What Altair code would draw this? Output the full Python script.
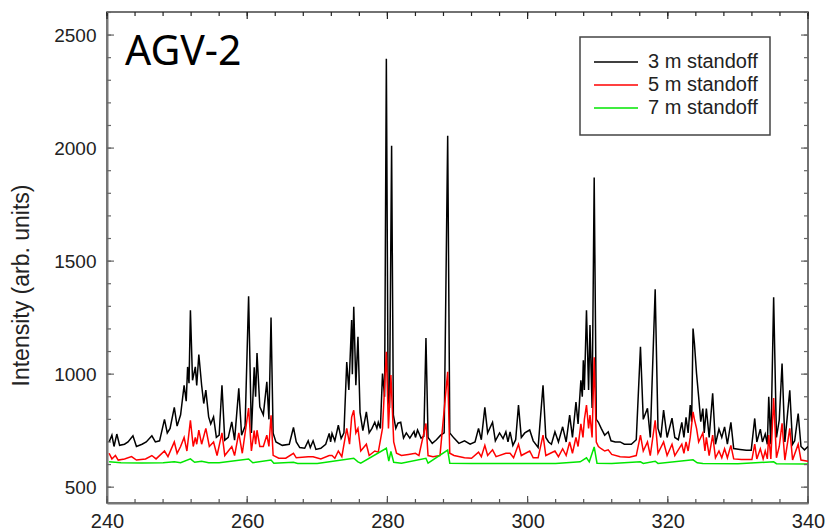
import altair as alt
import pandas as pd

# ---- spectra (wavelength in nm, intensity in arb. units) ----
x_3m = [240.3, 240.7, 241.0, 241.4, 241.8, 242.5, 243.0, 243.7, 244.2, 245.0, 245.6, 246.4, 246.9, 247.5,
        248.2, 248.6, 249.0, 249.6, 250.0, 250.5, 251.0, 251.3, 251.5, 251.7, 251.9, 252.2, 252.6, 252.8,
        253.1, 253.5, 253.8, 254.1, 254.5, 254.8, 255.2, 255.6, 256.0, 256.4, 256.8, 257.3, 257.8, 258.2,
        258.8, 259.2, 259.7, 260.2, 260.6, 261.0, 261.2, 261.4, 261.8, 262.3, 262.8, 263.1, 263.4, 263.7,
        264.1, 265.0, 266.0, 266.6, 267.0, 267.5, 268.2, 268.7, 269.0, 269.4, 269.8, 270.5, 271.2, 271.7,
        271.9, 272.1, 272.5, 273.0, 273.4, 273.8, 274.2, 274.5, 274.9, 275.0, 275.2, 275.5, 275.8, 276.1,
        276.5, 277.0, 277.4, 277.8, 278.2, 278.5, 278.7, 279.0, 279.3, 279.6, 279.85, 280.1, 280.3, 280.6,
        280.85, 281.2, 281.5, 281.9, 282.3, 282.7, 283.2, 283.8, 284.0, 284.3, 284.8, 285.2, 285.5, 285.8,
        286.4, 287.0, 287.6, 288.1, 288.6, 288.9, 289.5, 290.2, 291.0, 291.8, 292.5, 293.0, 293.4, 293.9,
        294.3, 295.0, 295.4, 296.0, 296.5, 296.9, 297.2, 297.5, 297.9, 298.3, 298.7, 299.1, 299.6, 300.3,
        300.8, 301.5, 302.2, 302.6, 303.0, 303.4, 303.9, 304.4, 305.0, 305.5, 306.0, 306.4, 306.9, 307.2,
        307.6, 307.8, 307.95, 308.1, 308.4, 308.7, 308.9, 309.2, 309.5, 309.8, 310.1, 310.5, 311.0, 311.5,
        311.9, 312.5, 313.2, 313.8, 314.8, 315.5, 316.1, 316.5, 317.1, 317.5, 318.2, 318.6, 319.0, 319.4,
        319.9, 320.6, 321.0, 321.5, 322.0, 322.3, 322.6, 322.9, 323.2, 323.4, 323.6, 323.8, 324.1, 324.4,
        324.7, 325.0, 325.2, 325.5, 325.9, 326.4, 326.8, 327.3, 327.7, 328.1, 328.5, 329.0, 329.4, 330.3,
        331.2, 331.9, 332.4, 332.7, 333.2, 333.5, 333.9, 334.2, 334.4, 334.7, 335.1, 335.5, 335.9, 336.3,
        336.7, 337.4, 337.8, 338.1, 338.6, 339.0, 339.5, 340.0]
y_3m = [700, 730, 680, 735, 685, 690, 700, 727, 680, 690, 700, 727, 700, 705,
        800, 740, 760, 853, 770, 820, 951, 880, 1032, 960, 1283, 973, 1032, 950,
        1087, 951, 870, 929, 811, 780, 811, 720, 730, 951, 708, 720, 789, 708,
        937, 730, 770, 1345, 740, 1030, 900, 1093, 855, 820, 966, 800, 1250, 739,
        700, 685, 690, 764, 700, 675, 672, 705, 675, 705, 667, 672, 690, 738,
        700, 738, 705, 774, 715, 740, 1054, 930, 1239, 1000, 1298, 951, 1165, 830,
        750, 833, 740, 760, 787, 760, 787, 760, 1003, 900, 2395, 900, 850, 2010,
        820, 760, 783, 787, 717, 740, 717, 747, 720, 753, 717, 725, 1160, 720,
        694, 710, 730, 740, 2055, 740, 717, 694, 705, 690, 700, 760, 710, 853,
        740, 787, 705, 740, 715, 745, 700, 745, 685, 710, 863, 720, 740, 753,
        705, 676, 951, 720, 700, 690, 745, 700, 767, 700, 819, 720, 877, 780,
        973, 900, 1061, 930, 1283, 930, 1217, 850, 1870, 800, 787, 760, 730, 745,
        705, 700, 700, 690, 690, 710, 1121, 800, 849, 720, 1375, 760, 720, 841,
        720, 805, 720, 710, 787, 720, 809, 740, 863, 790, 1202, 1135, 1003, 900,
        790, 848, 740, 848, 720, 915, 690, 757, 720, 767, 690, 787, 671, 667,
        663, 663, 804, 700, 757, 700, 735, 690, 900, 690, 1340, 720, 797, 1047,
        700, 929, 690, 705, 826, 680, 665, 680]

x_5m = [240.3, 240.7, 241.2, 241.6, 242.5, 243.5, 244.2, 245.5, 246.4, 247.0, 248.2, 248.7, 249.6, 250.0,
        250.5, 251.0, 251.4, 251.9, 252.3, 252.6, 252.8, 253.1, 253.5, 254.1, 254.6, 255.2, 255.7, 256.4,
        256.8, 257.8, 258.2, 258.8, 259.3, 260.2, 260.6, 261.0, 261.2, 261.4, 261.8, 262.3, 262.8, 263.1,
        263.4, 263.7, 264.5, 265.5, 266.6, 267.0, 268.7, 269.4, 270.5, 271.7, 272.1, 272.5, 273.0, 273.5,
        274.2, 274.6, 274.9, 275.2, 275.5, 275.8, 276.2, 277.0, 277.4, 278.2, 278.7, 279.3, 279.85, 280.15,
        280.5, 280.9, 281.3, 282.0, 283.0, 284.0, 284.5, 285.5, 285.8, 286.5, 287.5, 288.6, 288.9, 289.5,
        291.0, 292.0, 293.0, 293.4, 293.9, 294.3, 295.0, 295.5, 296.9, 297.5, 298.0, 298.7, 299.1, 300.3,
        300.8, 301.5, 302.2, 302.6, 303.9, 304.4, 305.0, 305.5, 306.0, 306.4, 306.9, 307.2, 307.6, 307.9,
        308.1, 308.4, 308.7, 308.9, 309.2, 309.5, 309.8, 310.1, 310.5, 311.0, 311.5, 312.0, 313.2, 314.5,
        315.5, 316.1, 316.5, 317.1, 317.5, 318.2, 318.6, 319.4, 319.9, 320.6, 321.0, 322.0, 322.3, 322.6,
        322.9, 323.2, 323.6, 323.8, 324.1, 324.4, 325.0, 325.3, 325.5, 325.9, 326.4, 326.8, 327.3, 327.7,
        328.1, 328.5, 329.0, 329.4, 330.5, 332.0, 332.4, 332.7, 333.2, 333.6, 333.9, 334.2, 334.4, 334.7,
        335.1, 335.5, 335.9, 336.3, 336.7, 337.4, 337.8, 338.6, 339.0, 340.0]
y_5m = [650, 625, 640, 620, 625, 635, 620, 625, 640, 625, 660, 635, 700, 650,
        680, 720, 660, 796, 680, 720, 690, 752, 690, 760, 680, 700, 640, 740,
        640, 680, 640, 740, 650, 850, 660, 750, 690, 752, 680, 680, 730, 680,
        818, 641, 628, 628, 650, 630, 635, 635, 625, 640, 640, 628, 660, 635,
        760, 690, 810, 840, 740, 760, 660, 690, 640, 660, 655, 760, 1099, 760,
        996, 700, 650, 640, 645, 650, 640, 782, 640, 635, 640, 1010, 650, 640,
        630, 628, 655, 635, 685, 640, 665, 635, 650, 650, 630, 690, 640, 660,
        630, 630, 730, 640, 660, 635, 670, 640, 700, 650, 720, 680, 780, 720,
        800, 863, 760, 819, 720, 1075, 700, 680, 670, 660, 665, 645, 635, 632,
        640, 730, 660, 700, 640, 796, 650, 700, 640, 690, 640, 690, 650, 700,
        660, 720, 833, 800, 760, 700, 740, 660, 720, 640, 730, 630, 660, 630,
        670, 630, 685, 625, 622, 622, 690, 625, 670, 625, 660, 625, 731, 625,
        894, 630, 680, 782, 620, 760, 620, 690, 620, 615]

x_7m = [240.3, 242.0, 245.0, 248.0, 249.6, 250.5, 251.9, 252.5, 253.5, 254.5, 256.0, 260.2, 260.8, 263.4,
        263.8, 266.6, 267.2, 270.0, 275.2, 275.8, 276.2, 279.85, 280.2, 280.5, 280.9, 282.0, 285.5, 285.8,
        288.6, 288.9, 292.0, 300.0, 304.0, 307.5, 308.4, 308.8, 309.5, 309.9, 312.0, 316.1, 316.5, 318.2,
        318.6, 323.6, 324.2, 325.0, 330.0, 335.1, 335.5, 340.0]
y_7m = [612, 608, 607, 608, 612, 608, 625, 610, 615, 608, 608, 625, 608, 620,
        606, 610, 605, 605, 628, 612, 606, 672, 615, 658, 610, 606, 628, 606,
        664, 606, 605, 605, 605, 612, 630, 612, 678, 606, 605, 612, 605, 615,
        605, 621, 608, 605, 604, 612, 604, 603]

series_names = ["3 m standoff", "5 m standoff", "7 m standoff"]
series_colors = ["#000000", "#ff0000", "#00e600"]

# ---- axis ticks ----
x_major = [240, 260, 280, 300, 320, 340]
x_minor = [v for v in range(240, 341, 4)]
y_major = [500, 1000, 1500, 2000, 2500]
y_minor = [v for v in range(500, 2601, 100)]

W, H = 701, 491
X_DOM = [240, 340]
Y_DOM = [430, 2602]
FONT = "Liberation Sans"

frames = []
for name, xs_, ys_ in zip(series_names, [x_3m, x_5m, x_7m], [y_3m, y_5m, y_7m]):
    frames.append(pd.DataFrame({"wl": xs_, "intensity": ys_, "series": name}))
spectra = pd.concat(frames, ignore_index=True)

xs = alt.Scale(domain=X_DOM, nice=False, zero=False)
ys = alt.Scale(domain=Y_DOM, nice=False, zero=False)

lines = alt.Chart(spectra).mark_line(strokeWidth=1.5, clip=True).encode(
    x=alt.X("wl:Q", scale=xs,
            axis=alt.Axis(title=None, values=x_major, ticks=False, labelFontSize=20,
                          labelFont=FONT, labelColor="#222", labelPadding=8,
                          labelFlush=False, format="d",
                          domainColor="#777", domainWidth=2, grid=False)),
    y=alt.Y("intensity:Q", scale=ys,
            axis=alt.Axis(title="Intensity (arb. units)", values=y_major, ticks=False,
                          format="d", labelFontSize=19, labelFont=FONT, labelColor="#222",
                          labelPadding=11, titleFont=FONT, titleFontSize=23,
                          titleFontWeight="normal", titleColor="#222", titlePadding=20,
                          titleY=273,
                          domainColor="#777", domainWidth=2, grid=False)),
    color=alt.Color("series:N",
                    scale=alt.Scale(domain=series_names, range=series_colors),
                    legend=None),
    order=alt.Order("wl:Q"),
)


def tick_layer(values, channel, length, side, color):
    df = pd.DataFrame({"v": values})
    base = alt.Chart(df).mark_rule(color=color, strokeWidth=1.2)
    if channel == "x":
        y0 = H if side == "bottom" else 0
        y1 = H - length if side == "bottom" else length
        return base.encode(x=alt.X("v:Q", scale=xs), y=alt.value(y0), y2=alt.value(y1))
    x0 = 0 if side == "left" else W
    x1 = length if side == "left" else W - length
    return base.encode(y=alt.Y("v:Q", scale=ys), x=alt.value(x0), x2=alt.value(x1))


ticks = [
    tick_layer(x_minor, "x", 4, "bottom", "#555"),
    tick_layer(x_major, "x", 7, "bottom", "#555"),
    tick_layer(x_minor, "x", 4, "top", "#222"),
    tick_layer(x_major, "x", 7, "top", "#222"),
    tick_layer(y_minor, "y", 4, "left", "#666"),
    tick_layer(y_major, "y", 7, "left", "#666"),
    tick_layer(y_minor, "y", 4, "right", "#666"),
    tick_layer(y_major, "y", 7, "right", "#666"),
]

# ---- boxed legend in the upper right ----
LEG_X0, LEG_X1, LEG_Y0, LEG_Y1 = 473, 663, 25, 123
one = pd.DataFrame({"k": [0]})
legend_layers = [
    alt.Chart(one).mark_rect(fill="white", stroke="#444", strokeWidth=1.5).encode(
        x=alt.value(LEG_X0), x2=alt.value(LEG_X1), y=alt.value(LEG_Y0), y2=alt.value(LEG_Y1))
]
for i, (name, col) in enumerate(zip(series_names, series_colors)):
    row_y = 50 + 23 * i
    legend_layers.append(
        alt.Chart(one).mark_rule(color=col, strokeWidth=1.5).encode(
            x=alt.value(487), x2=alt.value(531), y=alt.value(row_y)))
    legend_layers.append(
        alt.Chart(pd.DataFrame({"t": [name]})).mark_text(
            font=FONT, fontSize=20, align="left", baseline="middle", color="#222"
        ).encode(text="t:N", x=alt.value(541), y=alt.value(row_y)))

label = alt.Chart(pd.DataFrame({"t": ["AGV-2"]})).mark_text(
    font="Noto Sans", fontSize=41, align="left", baseline="alphabetic", color="#000"
).encode(text="t:N", x=alt.value(18), y=alt.value(53))

chart = alt.layer(lines, *ticks, *legend_layers, label).properties(
    width=W, height=H,
    autosize=alt.AutoSizeParams(type="none"),
    padding={"left": 107, "top": 12, "right": 17, "bottom": 29},
).configure_view(stroke="#444", strokeWidth=1.5)

chart.save("out.html", embed_options={"renderer": "svg", "actions": False})
